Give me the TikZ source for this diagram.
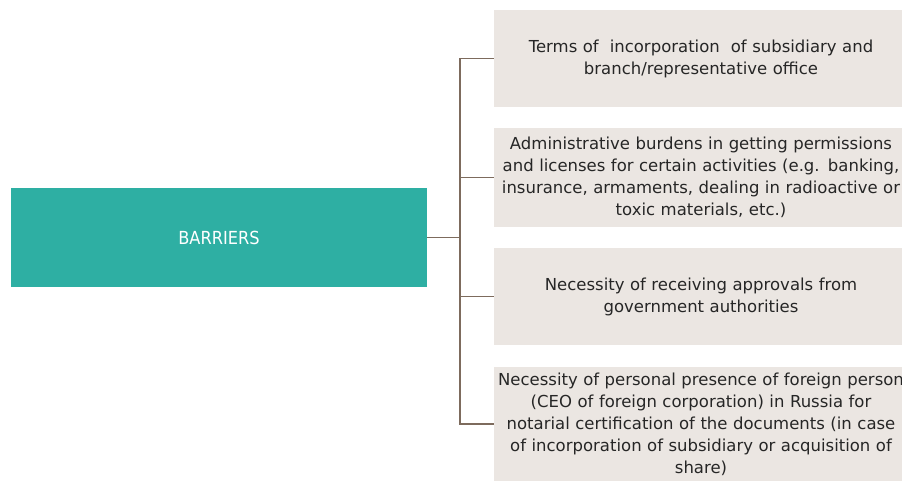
\documentclass[tikz,border=0pt]{standalone}
\usepackage{fontspec}
\setmainfont{DejaVu Sans}
\newfontfamily\headfont{DejaVu Sans Condensed}
\definecolor{barrierteal}{HTML}{2EAFA3}
\definecolor{itemgrey}{HTML}{EBE6E2}
\definecolor{linkbrown}{HTML}{7D6B5D}
\begin{document}
\begin{tikzpicture}[x=1pt,y=-1pt,
    barrier/.style={fill=barrierteal,minimum width=416pt,minimum height=99pt,
        text=white,font=\headfont\fontsize{18}{22}\selectfont},
    item/.style={fill=itemgrey,minimum width=414pt,text width=410pt,inner sep=0pt,
        align=center,text=black!85,font=\fontsize{16.5}{22}\selectfont},
    link/.style={draw=linkbrown,line width=1.2pt}]
\useasboundingbox (0,0) rectangle (902,481);
\clip (0,0) rectangle (902,481);
% left box
\node[barrier] (main) at (219,237.5) {BARRIERS};
% the four barriers on the right
\node[item,minimum height=97pt] (terms) at (701,58.5)
    {Terms of\ \ incorporation\ \ of subsidiary and\\ branch/representative office};
\node[item,minimum height=99pt] (admin) at (701,177.5)
    {Administrative burdens in getting permissions\\ and licenses for certain activities (e.g. banking,\\
     insurance, armaments, dealing in radioactive or\\ toxic materials, etc.)};
\node[item,minimum height=97pt] (approv) at (701,296.5)
    {Necessity of receiving approvals from\\ government authorities};
\node[item,minimum height=114pt] (presence) at (701,424)
    {Necessity of personal presence of foreign person\\ (CEO of foreign corporation) in Russia for\\
     notarial certification of the documents (in case\\ of incorporation of subsidiary or acquisition of\\ share)};
% tree lines
\coordinate (trunk) at (460,237.5);
\draw[link] (main.east) -- (trunk);
\foreach \b in {terms,admin,approv,presence}
    \draw[link] (\b.west) -| (trunk);
\end{tikzpicture}
\end{document}
